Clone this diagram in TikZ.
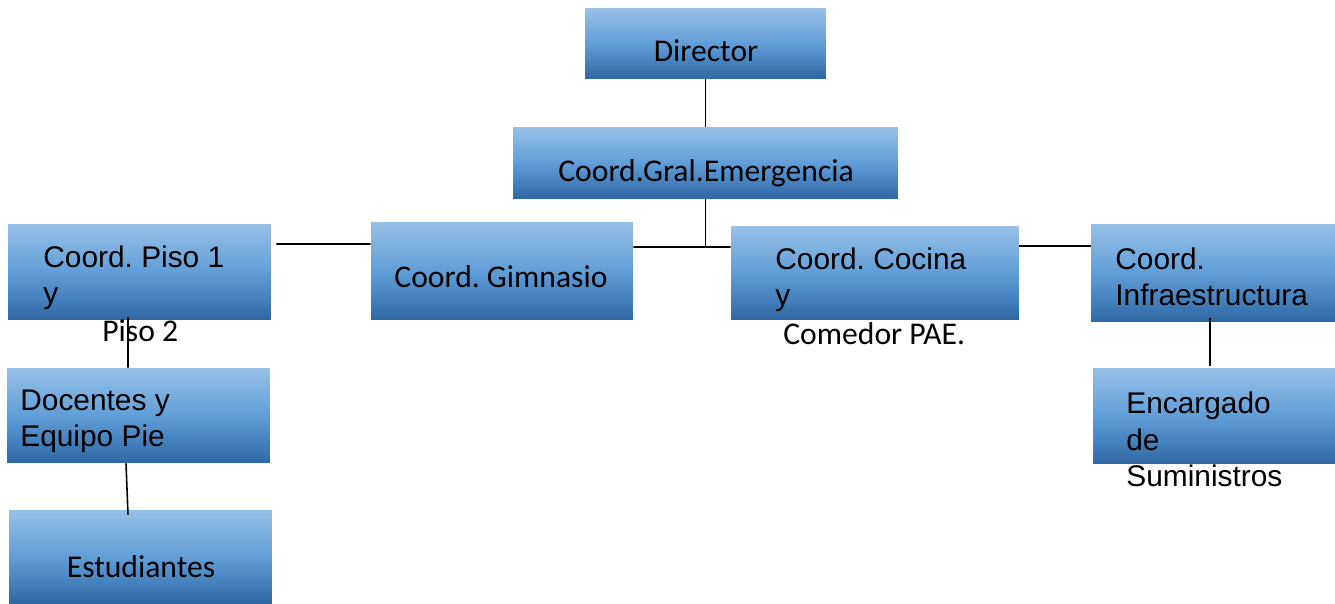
\documentclass[tikz,border=0pt]{standalone}
\usepackage{fontspec}
\setmainfont{Liberation Sans}
\newfontfamily\carlito{Carlito}
\frenchspacing
\definecolor{boxtop}{RGB}{152,192,230}
\definecolor{boxmid}{RGB}{96,158,216}
\definecolor{boxbot}{RGB}{46,104,164}

\begin{document}
\begin{tikzpicture}[x=0.02cm, y=-0.02cm,
    orgbox/.style={rectangle, inner sep=0pt, top color=boxtop, bottom color=boxbot, middle color=boxmid},
    arialtxt/.style={anchor=base west, inner sep=0pt, font=\fontsize{17}{20}\selectfont},
    calibtxt/.style={anchor=base, inner sep=0pt, font=\carlito\fontsize{18}{21}\selectfont},
    link/.style={draw=black, line width=0.9pt}]
    \useasboundingbox (0,0) rectangle (1335,604);
    % boxes
    \node[orgbox, minimum width=4.82cm, minimum height=1.42cm] (dir) at (705.5,43.5) {};
    \node[orgbox, minimum width=7.7cm, minimum height=1.44cm] (gral) at (705.5,163) {};
    \node[orgbox, minimum width=5.26cm, minimum height=1.92cm] (piso) at (139.5,272) {};
    \node[orgbox, minimum width=5.24cm, minimum height=1.96cm] (gim) at (502,271) {};
    \node[orgbox, minimum width=5.76cm, minimum height=1.88cm] (cocina) at (875,273) {};
    \node[orgbox, minimum width=4.88cm, minimum height=1.96cm] (infra) at (1213,273) {};
    \node[orgbox, minimum width=5.26cm, minimum height=1.9cm] (doc) at (138.5,415.5) {};
    \node[orgbox, minimum width=5.26cm, minimum height=1.88cm] (est) at (140.5,557) {};
    \node[orgbox, minimum width=4.84cm, minimum height=1.92cm] (enc) at (1214,416) {};
    % texts
    \node[calibtxt] (dirtxt) at (706,62) {Director};
    \node[calibtxt] (graltxt) at (706,182) {Coord.Gral.Emergencia};
    \node[calibtxt] (gimtxt) at (501,288) {Coord. Gimnasio};
    \node[calibtxt] (esttxt) at (141,577) {Estudiantes};
    \node[arialtxt] (pisoa) at (43,268) {Coord. Piso 1};
    \node[arialtxt] (pisob) at (43,304) {y};
    \node[calibtxt, anchor=base west] (pisoc) at (102,342) {Piso 2};
    \node[arialtxt] (cocinaa) at (775,270) {Coord. Cocina};
    \node[arialtxt] (cocinab) at (775,306) {y};
    \node[calibtxt, anchor=base west] (cocinac) at (783,345) {Comedor PAE.};
    \node[arialtxt] (infraa) at (1115,270) {Coord.};
    \node[arialtxt] (infrab) at (1115,306) {Infraestructura};
    \node[arialtxt] (doca) at (20,410) {Docentes y};
    \node[arialtxt] (docb) at (20,446) {Equipo Pie};
    \node[arialtxt] (enca) at (1126,414) {Encargado};
    \node[arialtxt] (encb) at (1126,450) {de};
    \node[arialtxt] (encc) at (1126,486) {Suministros};
    % links
    \coordinate (gimR) at ([yshift=0.48cm]gim.east);
    \draw[link] (dir.south) -- (gral.north);
    \draw[link] (gral.south) -- (gral.south |- gimR);
    \draw[link] (gimR) -- ([yshift=0.52cm]cocina.west);
    \draw[link] ([shift={(0.1cm,0.56cm)}]piso.east) -- ([yshift=0.54cm]gim.west);
    \draw[link] ([yshift=0.54cm]cocina.east) -- ([yshift=0.54cm]infra.west);
    \draw[link] ([shift={(-0.23cm,0.06cm)}]piso.south) -- ([xshift=-0.21cm]doc.north);
    \draw[link] ([xshift=-0.25cm]doc.south) -- ([shift={(-0.25cm,-0.1cm)}]est.north);
    \draw[link] ([shift={(-0.06cm,0.08cm)}]infra.south) -- ([shift={(-0.08cm,0.04cm)}]enc.north);
\end{tikzpicture}
\end{document}
